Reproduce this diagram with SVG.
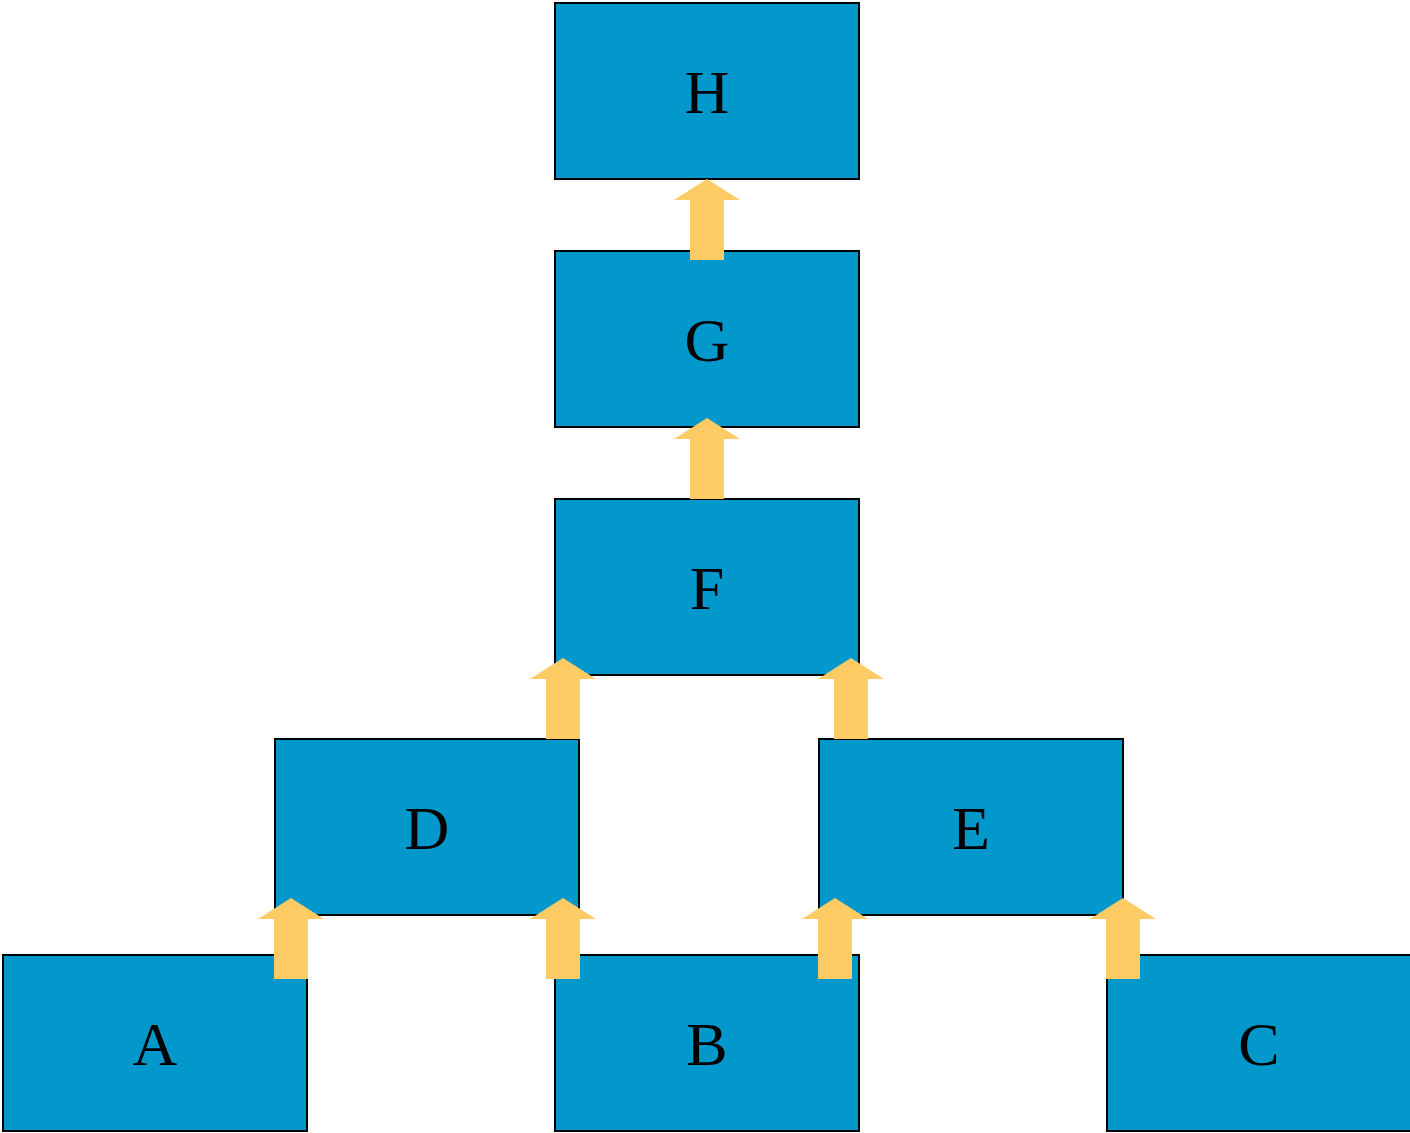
<svg xmlns="http://www.w3.org/2000/svg" width="1410" height="1133" viewBox="0 0 1410 1133">
<style>
.box{fill:#0398cc;stroke:#000;stroke-width:2}
.lbl{font-family:'Liberation Serif','Times New Roman',Times,serif;font-size:62px;fill:#000;text-anchor:middle}
.arr{fill:#fecb65}
</style>
<defs>
<path id="up" d="M0,0 L33,21 L17,21 L17,81 L-17,81 L-17,21 L-33,21 Z"/>
</defs>
<rect width="1410" height="1133" fill="#fff"/>
<g id="H"><rect class="box" x="555" y="3" width="304" height="176"/><text class="lbl" x="707" y="113">H</text></g>
<g id="G"><rect class="box" x="555" y="251" width="304" height="176"/><text class="lbl" x="707" y="361">G</text></g>
<g id="F"><rect class="box" x="555" y="499" width="304" height="176"/><text class="lbl" x="707" y="609">F</text></g>
<g id="D"><rect class="box" x="275" y="739" width="304" height="176"/><text class="lbl" x="427" y="849">D</text></g>
<g id="E"><rect class="box" x="819" y="739" width="304" height="176"/><text class="lbl" x="971" y="849">E</text></g>
<g id="A"><rect class="box" x="3" y="955" width="304" height="176"/><text class="lbl" x="155" y="1065">A</text></g>
<g id="B"><rect class="box" x="555" y="955" width="304" height="176"/><text class="lbl" x="707" y="1065">B</text></g>
<g id="C"><rect class="box" x="1107" y="955" width="304" height="176"/><text class="lbl" x="1259" y="1065">C</text></g>
<g id="connectors" class="arr">
<use href="#up" x="707" y="179"/>
<use href="#up" x="707" y="418"/>
<use href="#up" x="563" y="658"/>
<use href="#up" x="851" y="658"/>
<use href="#up" x="291" y="898"/>
<use href="#up" x="563" y="898"/>
<use href="#up" x="835" y="898"/>
<use href="#up" x="1123" y="898"/>
</g>
</svg>
